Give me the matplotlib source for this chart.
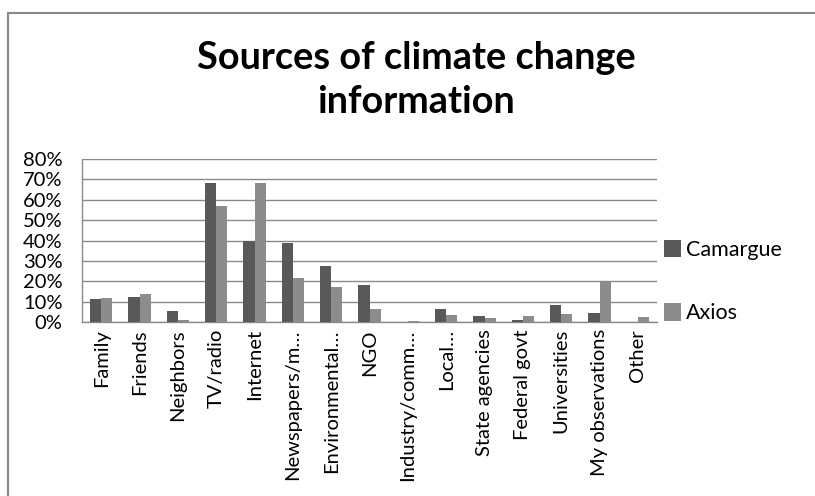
import numpy as np
import matplotlib
matplotlib.use("Agg")
import matplotlib.pyplot as plt
from matplotlib.lines import Line2D
from matplotlib.patches import Patch
from matplotlib.ticker import PercentFormatter

plt.rcParams['font.family'] = ['Lato', 'DejaVu Sans']

# data (percent of respondents)
categories = ["Family", "Friends", "Neighbors", "TV/radio", "Internet",
              "Newspapers/m\u2026", "Environmental\u2026", "NGO", "Industry/comm\u2026",
              "Local\u2026", "State agencies", "Federal govt", "Universities",
              "My observations", "Other"]
camargue = [11.4, 12.5, 5.5, 68.4, 40.0, 38.9, 27.6, 18.4, 0.0,
            6.7, 2.9, 1.3, 8.3, 4.5, 0.0]
axios = [12.0, 13.7, 1.3, 57.0, 68.4, 21.7, 17.4, 6.7, 0.6,
         3.6, 2.0, 2.9, 4.0, 19.8, 2.4]
series_names = ["Camargue", "Axios"]
colors = ["#595959", "#8c8c8c"]

fig = plt.figure(figsize=(8.15, 4.96), dpi=100)
ax = fig.add_axes([82 / 815, 1 - 322.3 / 496, 575 / 815, 163.3 / 496])

x = np.arange(len(categories))
w = 0.29
ax.bar(x - w / 2, camargue, w, color=colors[0], zorder=3)
ax.bar(x + w / 2, axios, w, color=colors[1], zorder=3)

ax.set_xlim(-0.5, len(categories) - 0.5)
ax.set_ylim(0, 80)
ax.set_yticks(np.arange(0, 81, 10))
ax.yaxis.set_major_formatter(PercentFormatter(decimals=0))
ax.yaxis.grid(True, color="#8a8a8a", linewidth=1.0, zorder=0)
ax.set_xticks(x)
ax.set_xticklabels(categories, rotation=90, fontsize=14.5)
ax.tick_params(axis="y", labelsize=14.5, length=0, pad=14)
ax.tick_params(axis="x", length=0, pad=5)
for s in ["top", "right"]:
    ax.spines[s].set_visible(False)
for s in ["left", "bottom"]:
    ax.spines[s].set_color("#8a8a8a")
    ax.spines[s].set_linewidth(1.0)

# legend
handles = [Patch(facecolor=c, edgecolor="none") for c in colors]
fig.legend(handles, series_names, loc="center left",
           bbox_to_anchor=(645 / 815, 1 - 281.5 / 496), frameon=False,
           fontsize=15.5, handlelength=0.75, handleheight=0.9,
           handletextpad=0.25, labelspacing=2.0)

# title
fig.text(416 / 815, 1 - 80 / 496, "Sources of climate change\ninformation",
         ha="center", va="center", fontsize=27.3, fontweight="bold",
         linespacing=1.35)

# chart frame (only top-left corner is visible in the crop)
fig.add_artist(Line2D([8 / 815, 8 / 815], [1 - 13 / 496, -0.05],
                      transform=fig.transFigure, color="#888888", linewidth=1.5))
fig.add_artist(Line2D([8 / 815, 1.05], [1 - 13 / 496, 1 - 13 / 496],
                      transform=fig.transFigure, color="#888888", linewidth=1.5))

fig.savefig("out.png", dpi=100)
